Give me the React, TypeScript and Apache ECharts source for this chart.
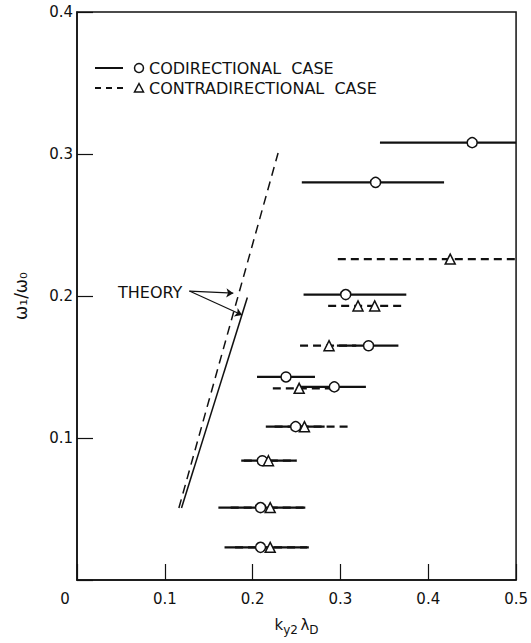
import React, { useEffect, useRef } from "react";
import * as echarts from "echarts";

// ---- Data ----
const xTickValues = [0, 0.1, 0.2, 0.3, 0.4, 0.5];
const yTickValues = [0, 0.1, 0.2, 0.3, 0.4];

// Codirectional case (circles, solid error bars)
const coY = [0.308, 0.28, 0.201, 0.165, 0.143, 0.136, 0.108, 0.084, 0.051, 0.023];
const coX = [0.45, 0.34, 0.306, 0.332, 0.238, 0.293, 0.249, 0.211, 0.209, 0.209];
const coLow = [0.345, 0.256, 0.258, 0.296, 0.205, 0.255, 0.215, 0.187, 0.161, 0.168];
const coHigh = [0.5, 0.418, 0.375, 0.366, 0.271, 0.329, 0.282, 0.25, 0.26, 0.264];

// Contradirectional case (triangles, dashed error bars)
const ctY = [0.226, 0.193, 0.193, 0.165, 0.135, 0.108, 0.084, 0.051, 0.023];
const ctX = [0.425, 0.32, 0.339, 0.287, 0.253, 0.259, 0.218, 0.22, 0.22];
const ctLow = [0.297, 0.286, 0.339, 0.254, 0.223, 0.225, 0.19, 0.175, 0.18];
const ctHigh = [0.5, 0.373, 0.339, 0.318, 0.29, 0.311, 0.25, 0.26, 0.262];

// Theory curves
const theorySolidX = [0.119, 0.194];
const theorySolidY = [0.0507, 0.199];
const theoryDashX = [0.116, 0.229];
const theoryDashY = [0.0507, 0.3007];

// Theory annotation arrows (data coordinates)
const arrowStart = [0.128, 0.2035];
const arrowEnds = [
  [0.178, 0.202],
  [0.188, 0.1866],
];

const legendLabels = ["CODIRECTIONAL  CASE", "CONTRADIRECTIONAL  CASE"];
const theoryLabel = "THEORY";

const INK = "#111";
const FONT = "DejaVu Sans";

function errorBars(name: string, ys: number[], lows: number[], highs: number[], dashed: boolean) {
  return {
    type: "custom",
    name,
    silent: true,
    z: 1,
    data: ys.map((y, i) => [lows[i], highs[i], y]),
    encode: { x: [0, 1], y: 2 },
    renderItem: (_params: any, api: any) => {
      const p1 = api.coord([api.value(0), api.value(2)]);
      const p2 = api.coord([api.value(1), api.value(2)]);
      return {
        type: "line",
        shape: { x1: p1[0], y1: p1[1], x2: p2[0], y2: p2[1] },
        style: { stroke: INK, lineWidth: 2.2, lineDash: dashed ? [8, 5] : null, fill: null },
      };
    },
  };
}

export default function App() {
  const ref = useRef<HTMLDivElement>(null);
  useEffect(() => {
    if (!ref.current) return;
    const chart = echarts.init(ref.current, null, { renderer: "svg" });
    const option: any = {
      animation: false,
      backgroundColor: "#fff",
      grid: {
        left: 77,
        right: 10,
        top: 12,
        bottom: 63,
        show: true,
        borderColor: INK,
        borderWidth: 1.5,
      },
      xAxis: {
        type: "value",
        min: xTickValues[0],
        max: xTickValues[xTickValues.length - 1],
        interval: 0.1,
        axisLine: { show: true, lineStyle: { color: INK, width: 1.5 } },
        axisTick: { show: true, inside: true, length: 16, lineStyle: { color: INK, width: 1.2 } },
        splitLine: { show: false },
        axisLabel: {
          color: INK,
          fontSize: 15,
          fontFamily: FONT,
          margin: 11,
          formatter: (v: number) => (v === 0 ? "{z|0}" : v.toFixed(1)),
          rich: { z: { fontSize: 15, fontFamily: FONT, color: INK, padding: [0, 24, 0, 0] } },
        },
        name: "{n|k}{s|y2}{g| }{n|λ}{s|D}",
        nameLocation: "middle",
        nameGap: 37,
        nameTextStyle: {
          rich: {
            n: { fontSize: 15, fontFamily: FONT, color: INK, verticalAlign: "top", lineHeight: 18 },
            s: { fontSize: 12, fontFamily: FONT, color: INK, verticalAlign: "top", lineHeight: 18, padding: [7, 0, 0, 0] },
            g: { fontSize: 8, fontFamily: FONT, lineHeight: 18 },
          },
        },
      },
      yAxis: {
        type: "value",
        min: yTickValues[0],
        max: yTickValues[yTickValues.length - 1],
        interval: 0.1,
        axisLine: { show: true, lineStyle: { color: INK, width: 1.5 } },
        axisTick: { show: true, inside: true, length: 16, lineStyle: { color: INK, width: 1.2 } },
        splitLine: { show: false },
        axisLabel: {
          color: INK,
          fontSize: 15,
          fontFamily: FONT,
          margin: 4,
          formatter: (v: number) => (v === 0 ? "" : v.toFixed(1)),
        },
        name: "ω₁/ω₀",
        nameLocation: "middle",
        nameGap: 48,
        nameRotate: 90,
        nameTextStyle: { color: INK, fontSize: 17, fontFamily: FONT },
      },
      graphic: [
        { type: "line", shape: { x1: 95, y1: 68, x2: 123, y2: 68 }, style: { stroke: INK, lineWidth: 2 } },
        { type: "circle", shape: { cx: 139, cy: 68, r: 4.5 }, style: { stroke: INK, lineWidth: 1.5, fill: "#fff" } },
        {
          type: "text",
          x: 149,
          y: 68,
          style: { text: legendLabels[0], fontSize: 16, fontFamily: FONT, fill: INK, verticalAlign: "middle" },
        },
        {
          type: "line",
          shape: { x1: 95, y1: 88, x2: 124, y2: 88 },
          style: { stroke: INK, lineWidth: 2, lineDash: [6, 5] },
        },
        {
          type: "polygon",
          shape: { points: [[139, 83.5], [134.5, 92], [143.5, 92]] },
          style: { stroke: INK, lineWidth: 1.5, fill: "#fff" },
        },
        {
          type: "text",
          x: 149,
          y: 88,
          style: { text: legendLabels[1], fontSize: 16, fontFamily: FONT, fill: INK, verticalAlign: "middle" },
        },
        {
          type: "text",
          x: 118,
          y: 292,
          style: { text: theoryLabel, fontSize: 16, fontFamily: FONT, fill: INK, verticalAlign: "middle" },
        },
      ],
      series: [
        {
          type: "line",
          name: "theory-solid",
          data: theorySolidX.map((x, i) => [x, theorySolidY[i]]),
          showSymbol: false,
          symbol: "none",
          lineStyle: { color: INK, width: 1.5 },
          z: 2,
          markLine: {
            silent: true,
            symbol: ["none", "arrow"],
            symbolSize: 7,
            label: { show: false },
            lineStyle: { color: INK, width: 1.2, type: "solid" },
            data: arrowEnds.map((e) => [{ coord: arrowStart }, { coord: e }]),
          },
        },
        {
          type: "line",
          name: "theory-dashed",
          data: theoryDashX.map((x, i) => [x, theoryDashY[i]]),
          showSymbol: false,
          symbol: "none",
          lineStyle: { color: INK, width: 1.5, type: [9, 6] },
          z: 2,
        },
        errorBars("co-bars", coY, coLow, coHigh, false),
        errorBars("ct-bars", ctY, ctLow, ctHigh, true),
        {
          type: "scatter",
          name: "Codirectional",
          data: coX.map((x, i) => [x, coY[i]]),
          symbol: "circle",
          symbolSize: 10,
          itemStyle: { color: "#fff", borderColor: INK, borderWidth: 1.5, opacity: 1 },
          z: 4,
        },
        {
          type: "scatter",
          name: "Contradirectional",
          data: ctX.map((x, i) => [x, ctY[i]]),
          symbol: "triangle",
          symbolSize: 10,
          itemStyle: { color: "#fff", borderColor: INK, borderWidth: 1.5, opacity: 1 },
          z: 4,
        },
      ],
    };
    chart.setOption(option);
    return () => chart.dispose();
  }, []);
  return (
    <div
      ref={ref}
      style={{ position: "absolute", left: 0, top: 0, width: 531, height: 643, background: "#fff" }}
    />
  );
}
